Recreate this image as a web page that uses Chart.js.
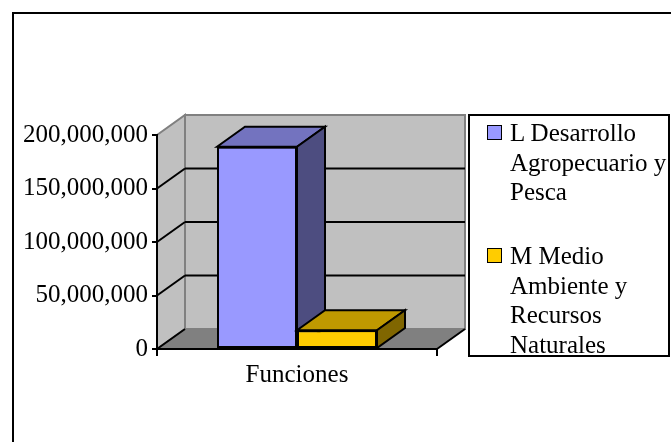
<!DOCTYPE html>
<html>
<head>
<meta charset="utf-8">
<script src="https://cdn.jsdelivr.net/npm/chart.js@4"></script>
<style>
  body { margin: 0; background: #fff; }
  #frame { position: absolute; left: 12px; top: 12px; width: 700px; height: 450px;
           border-left: 2px solid #000; border-top: 2px solid #000; }
  #chart { position: absolute; left: 0; top: 0; }
  #legend { position: absolute; left: 468px; top: 114px; width: 202px; height: 243px;
            box-sizing: border-box; border: 2px solid #000; background: #fff;
            font-family: "Liberation Serif", "Times New Roman", serif; font-size: 25px; line-height: 29.5px; color: #000; }
  .item { position: absolute; left: 40px; width: 160px; }
  .swatch { position: absolute; left: -23px; top: 7px; width: 13px; height: 13px; border: 1.5px solid #000; }
</style>
</head>
<body>
<div id="frame"></div>
<canvas id="chart" width="671" height="442"></canvas>
<div id="legend"></div>
<script>
// data
let categories = ['Funciones'];
let seriesNames = ['L Desarrollo Agropecuario y Pesca', 'M Medio Ambiente y Recursos Naturales'];
let seriesValues = [[189000000], [17500000]];
let frontColors = ['#9999FF', '#FFCC00'];
let topColors = ['#7373BF', '#BF9900'];
let sideColors = ['#4D4D80', '#806600'];
let yMin = 0, yMax = 200000000, yStep = 50000000;

// 3d depth of the plot
let dx = 28, dy = 20;

function poly(ctx, pts, fill, stroke, lw) {
    ctx.beginPath();
    ctx.moveTo(pts[0][0], pts[0][1]);
    for (let i = 1; i < pts.length; i++) ctx.lineTo(pts[i][0], pts[i][1]);
    ctx.closePath();
    if (fill) { ctx.fillStyle = fill; ctx.fill(); }
    if (stroke) { ctx.strokeStyle = stroke; ctx.lineWidth = lw || 1; ctx.stroke(); }
}

function line(ctx, x1, y1, x2, y2, color, lw) {
    ctx.beginPath();
    ctx.moveTo(x1, y1);
    ctx.lineTo(x2, y2);
    ctx.strokeStyle = color;
    ctx.lineWidth = lw;
    ctx.stroke();
}

let walls = {
    id: 'walls',
    beforeDraw(chart) {
        let ctx = chart.ctx;
        let a = chart.chartArea;
        let y = chart.scales.y;
        ctx.save();
        // back wall
        poly(ctx, [[a.left + dx, a.top - dy], [a.right + dx, a.top - dy], [a.right + dx, a.bottom - dy], [a.left + dx, a.bottom - dy]], '#C0C0C0', '#808080', 2);
        // left wall
        poly(ctx, [[a.left, a.top], [a.left + dx, a.top - dy], [a.left + dx, a.bottom - dy], [a.left, a.bottom]], '#C0C0C0', '#808080', 2);
        // floor
        poly(ctx, [[a.left, a.bottom], [a.left + dx, a.bottom - dy], [a.right + dx, a.bottom - dy], [a.right, a.bottom]], '#808080', null);
        line(ctx, a.right, a.bottom, a.right + dx, a.bottom - dy, '#000', 2);
        // gridlines
        for (let v = yMin; v < yMax; v += yStep) {
            let py = y.getPixelForValue(v);
            line(ctx, a.left, py, a.left + dx, py - dy, '#000', 2);
            if (v > yMin) line(ctx, a.left + dx, py - dy, a.right + dx, py - dy, '#000', 2);
        }
        ctx.restore();
    },
    afterDatasetsDraw(chart) {
        let ctx = chart.ctx;
        ctx.save();
        for (let i = 0; i < chart.data.datasets.length; i++) {
            let bar = chart.getDatasetMeta(i).data[0];
            let p = bar.getProps(['x', 'y', 'base', 'width'], true);
            let l = p.x - p.width / 2, r = p.x + p.width / 2;
            bar.draw(ctx);
            poly(ctx, [[l, p.y], [l + dx, p.y - dy], [r + dx, p.y - dy], [r, p.y]], topColors[i], '#000', 2);
            poly(ctx, [[r, p.y], [r + dx, p.y - dy], [r + dx, p.base - dy], [r, p.base]], sideColors[i], '#000', 2);
        }
        ctx.restore();
    }
};

let serif = { family: '"Liberation Serif", "Times New Roman", serif', size: 25 };

let datasets = [];
for (let i = 0; i < seriesNames.length; i++) {
    datasets.push({
        label: seriesNames[i],
        data: seriesValues[i],
        backgroundColor: frontColors[i],
        borderColor: '#000',
        borderWidth: 2,
        borderSkipped: false,
        categoryPercentage: 0.5715,
        barPercentage: 1
    });
}

let ctx = document.getElementById('chart').getContext('2d');
let chart = new Chart(ctx, {
    type: 'bar',
    data: { labels: categories, datasets: datasets },
    options: {
        responsive: false,
        animation: false,
        devicePixelRatio: 1,
        layout: { padding: { left: 0, top: 135, right: 234, bottom: 0 } },
        plugins: { legend: { display: false }, tooltip: { enabled: false } },
        scales: {
            x: {
                grid: { drawOnChartArea: false, drawTicks: true, tickLength: 7, color: '#000', lineWidth: 2 },
                border: { display: true, color: '#000', width: 2 },
                ticks: { color: '#000', font: serif, padding: 4 },
                afterFit(scale) { scale.height = 93; }
            },
            y: {
                min: yMin,
                max: yMax,
                grid: { drawOnChartArea: false, drawTicks: true, tickLength: 5, color: '#000', lineWidth: 2 },
                border: { display: true, color: '#000', width: 2 },
                ticks: { color: '#000', font: serif, padding: 4, stepSize: yStep,
                         callback: v => v.toLocaleString('en-US') },
                afterFit(scale) { scale.width = 157; }
            }
        }
    },
    plugins: [walls]
});

// legend
let legend = document.getElementById('legend');
let tops = [2, 125];
for (let i = 0; i < seriesNames.length; i++) {
    let item = document.createElement('div');
    item.className = 'item';
    item.style.top = tops[i] + 'px';
    item.innerHTML = '<span class="swatch" style="background:' + frontColors[i] + '"></span>' + seriesNames[i];
    legend.appendChild(item);
}
</script>
</body>
</html>
